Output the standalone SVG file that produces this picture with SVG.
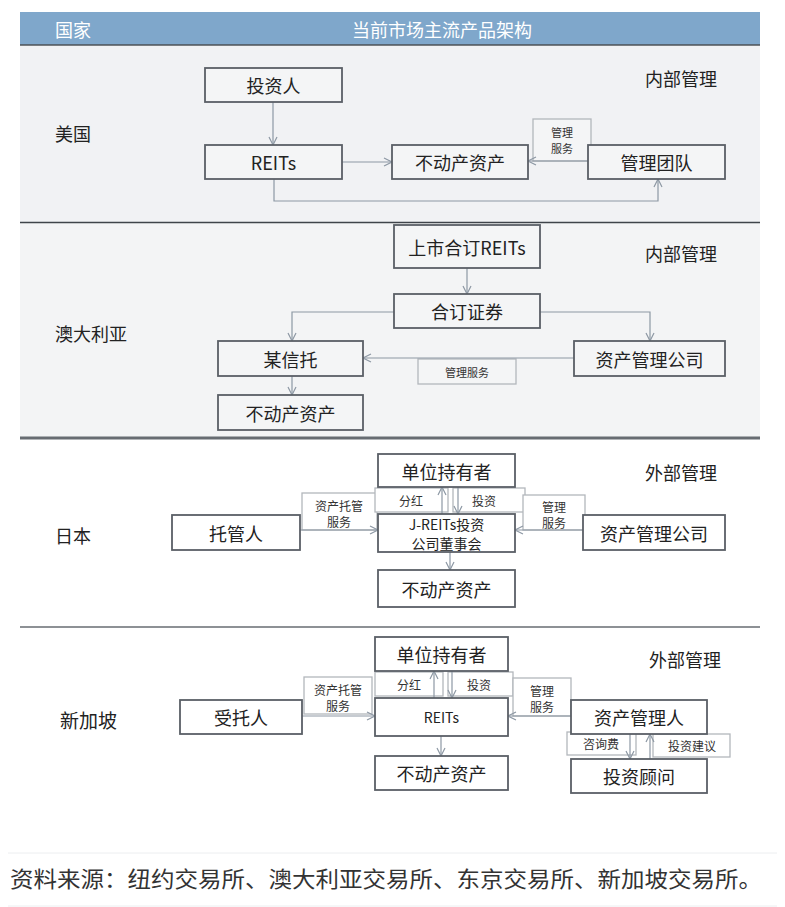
<svg xmlns="http://www.w3.org/2000/svg" width="785" height="907" viewBox="0 0 785 907">
<style>
text{font-family:"Noto Sans CJK SC","Noto Sans",sans-serif;fill:#222}
.node rect{fill:#fff;stroke:#5a5f66;stroke-width:1.8}
.bg1 .node rect{fill:#f4f5f6}
.t{font-size:18px;text-anchor:middle;dominant-baseline:central}
.ts{font-size:14px;text-anchor:middle;dominant-baseline:central}
.lbl rect{fill:#fff;stroke:#b3b7bc;stroke-width:1.3}
.lbl text{font-size:12px;text-anchor:middle;dominant-baseline:central;fill:#333}
.ca{fill:none;stroke:#8d98a4;stroke-width:1.2;marker-end:url(#ah)}
.side{font-size:18px;dominant-baseline:central}
</style>
<defs>
<marker id="ah" markerWidth="12" markerHeight="12" refX="9" refY="5" orient="auto" markerUnits="userSpaceOnUse">
<path d="M1,1 L9,5 L1,9" fill="none" stroke="#8d98a4" stroke-width="1.2"/>
</marker>
</defs>
<rect width="785" height="907" fill="#fff"/>
<!-- header -->
<g id="header">
<rect x="20" y="12" width="740" height="33" fill="#7fa7cb"/>
<line x1="20" y1="45" x2="760" y2="45" stroke="#4a4f55" stroke-width="1.5"/>
<text x="55" y="29" style="font-size:18px;fill:#fff;dominant-baseline:central">国家</text>
<text x="442" y="29" style="font-size:18px;fill:#fff;text-anchor:middle;dominant-baseline:central">当前市场主流产品架构</text>
</g>
<!-- section backgrounds -->
<rect x="20" y="46" width="740" height="176" fill="#f1f2f4"/>
<rect x="20" y="223" width="740" height="214" fill="#f3f4f5"/>
<line x1="20" y1="222.5" x2="760" y2="222.5" stroke="#3f444a" stroke-width="1.5"/>
<line x1="20" y1="438" x2="760" y2="438" stroke="#676c72" stroke-width="3"/>
<line x1="20" y1="627" x2="760" y2="627" stroke="#676c72" stroke-width="1.5"/>
<line x1="8" y1="853" x2="777" y2="853" stroke="#eceef0" stroke-width="1"/>
<line x1="8" y1="906" x2="777" y2="906" stroke="#eceef0" stroke-width="1"/>

<!-- side labels -->
<g id="labels">
<text class="side" x="55" y="133">美国</text>
<text class="side" x="645" y="78">内部管理</text>
<text class="side" x="55" y="333">澳大利亚</text>
<text class="side" x="645" y="253">内部管理</text>
<text class="side" x="55" y="535">日本</text>
<text class="side" x="645" y="472">外部管理</text>
<text class="side" x="60" y="719" style="font-size:19px">新加坡</text>
<text class="side" x="649" y="659">外部管理</text>
</g>

<!-- edge label boxes -->
<g id="edge-labels">
<g class="lbl" id="l-us-mgmt"><rect x="533" y="119" width="58" height="42" style="fill:#f4f5f6"/><text x="562" y="132" style="font-size:11px">管理</text><text x="562" y="148" style="font-size:11px">服务</text></g>
<g class="lbl" id="l-au-mgmt"><rect x="418" y="359" width="98" height="25" style="fill:#f4f5f6"/><text x="467" y="371.5" style="font-size:11px">管理服务</text></g>
<g class="lbl" id="l-jp-cust"><rect x="302" y="493" width="75" height="37"/><text x="339" y="505">资产托管</text><text x="339" y="521">服务</text></g>
<g class="lbl" id="l-jp-div"><rect x="375" y="488" width="73" height="24"/><text x="411" y="500">分红</text></g>
<g class="lbl" id="l-jp-inv"><rect x="453" y="488" width="72" height="24"/><text x="484" y="500">投资</text></g>
<g class="lbl" id="l-jp-mgmt"><rect x="523" y="495" width="62" height="35"/><text x="554" y="506">管理</text><text x="554" y="522">服务</text></g>
<g class="lbl" id="l-sg-cust"><rect x="304" y="677" width="68" height="37"/><text x="338" y="689">资产托管</text><text x="338" y="705">服务</text></g>
<g class="lbl" id="l-sg-div"><rect x="375" y="672" width="68" height="24"/><text x="409" y="684">分红</text></g>
<g class="lbl" id="l-sg-inv"><rect x="448" y="672" width="65" height="24"/><text x="479" y="684">投资</text></g>
<g class="lbl" id="l-sg-mgmt"><rect x="513" y="678" width="58" height="38"/><text x="542" y="690">管理</text><text x="542" y="706">服务</text></g>
<g class="lbl" id="l-sg-fee"><rect x="567" y="732" width="69" height="23"/><text x="601" y="743.5">咨询费</text></g>
<g class="lbl" id="l-sg-adv"><rect x="653" y="734" width="77" height="23"/><text x="692" y="745.5">投资建议</text></g>
</g>

<!-- connectors -->
<g id="connectors">
<!-- US -->
<path class="ca" d="M273,102 V145"/>
<path class="ca" d="M342,162 H392"/>
<path class="ca" d="M588,161 H528"/>
<path class="ca" d="M274,179 V201 H658 V179"/>
<!-- Australia -->
<path class="ca" d="M467,268 V294"/>
<path class="ca" d="M394,312 H292 V341"/>
<path class="ca" d="M540,312 H650 V341"/>
<path class="ca" d="M574,358 H363"/>
<path class="ca" d="M292,376 V395"/>
<!-- Japan -->
<path class="ca" d="M300,530 H378"/>
<path class="ca" d="M442,514 V487"/>
<path class="ca" d="M458,487 V514"/>
<path class="ca" d="M583,530 H515"/>
<path class="ca" d="M450,552 V570"/>
<!-- Singapore -->
<path class="ca" d="M302,716 H375"/>
<path class="ca" d="M434,698 V671"/>
<path class="ca" d="M452,671 V698"/>
<path class="ca" d="M571,716 H508"/>
<path class="ca" d="M441,736 V756"/>
<path class="ca" d="M630,734 V759"/>
<path class="ca" d="M650,759 V734"/>
</g>

<!-- nodes -->
<g class="bg1">
<g class="node" id="us-investor"><rect x="205" y="68" width="137" height="34"/><text class="t" x="273.5" y="85">投资人</text></g>
<g class="node" id="us-reits"><rect x="205" y="145" width="137" height="34"/><text class="t" x="273.5" y="162">REITs</text></g>
<g class="node" id="us-asset"><rect x="392" y="145" width="136" height="34"/><text class="t" x="460" y="162">不动产资产</text></g>
<g class="node" id="us-team"><rect x="588" y="145" width="137" height="34"/><text class="t" x="656.5" y="162">管理团队</text></g>
<g class="node" id="au-stapled"><rect x="394" y="225" width="146" height="43"/><text class="t" x="467" y="246.5">上市合订REITs</text></g>
<g class="node" id="au-sec"><rect x="394" y="294" width="146" height="34"/><text class="t" x="467" y="311">合订证券</text></g>
<g class="node" id="au-trust"><rect x="218" y="341" width="145" height="35"/><text class="t" x="290.5" y="358.5">某信托</text></g>
<g class="node" id="au-asset"><rect x="218" y="395" width="145" height="35"/><text class="t" x="290.5" y="412.5">不动产资产</text></g>
<g class="node" id="au-amc"><rect x="574" y="341" width="151" height="35"/><text class="t" x="649.5" y="358.5">资产管理公司</text></g>
</g>
<g id="jp-holder" class="node"><rect x="378" y="454" width="137" height="33"/><text class="t" x="446.5" y="470.5">单位持有者</text></g>
<g id="jp-board" class="node"><rect x="378" y="514" width="137" height="38"/><text class="ts" x="446.5" y="524">J-REITs投资</text><text class="ts" x="446.5" y="542.5">公司董事会</text></g>
<g id="jp-asset" class="node"><rect x="378" y="570" width="137" height="37"/><text class="t" x="446.5" y="588.5">不动产资产</text></g>
<g id="jp-custodian" class="node"><rect x="172" y="515" width="128" height="35"/><text class="t" x="236" y="532.5">托管人</text></g>
<g id="jp-amc" class="node"><rect x="583" y="515" width="142" height="35"/><text class="t" x="654" y="532.5">资产管理公司</text></g>
<g id="sg-holder" class="node"><rect x="375" y="637" width="133" height="34"/><text class="t" x="441.5" y="654">单位持有者</text></g>
<g id="sg-reits" class="node"><rect x="375" y="698" width="133" height="38"/><text class="ts" x="441.5" y="717">REITs</text></g>
<g id="sg-asset" class="node"><rect x="375" y="756" width="133" height="34"/><text class="t" x="441.5" y="773">不动产资产</text></g>
<g id="sg-trustee" class="node"><rect x="180" y="700" width="122" height="34"/><text class="t" x="241" y="717">受托人</text></g>
<g id="sg-manager" class="node"><rect x="571" y="700" width="136" height="34"/><text class="t" x="639" y="717">资产管理人</text></g>
<g id="sg-adviser" class="node"><rect x="571" y="759" width="136" height="34"/><text class="t" x="639" y="776">投资顾问</text></g>

<!-- footer -->
<text x="10" y="887" textLength="752" lengthAdjust="spacingAndGlyphs" style="font-family:'Liberation Serif','Noto Sans CJK SC',serif;font-size:22px;fill:#333">资料来源：纽约交易所、澳大利亚交易所、东京交易所、新加坡交易所。</text>
</svg>
